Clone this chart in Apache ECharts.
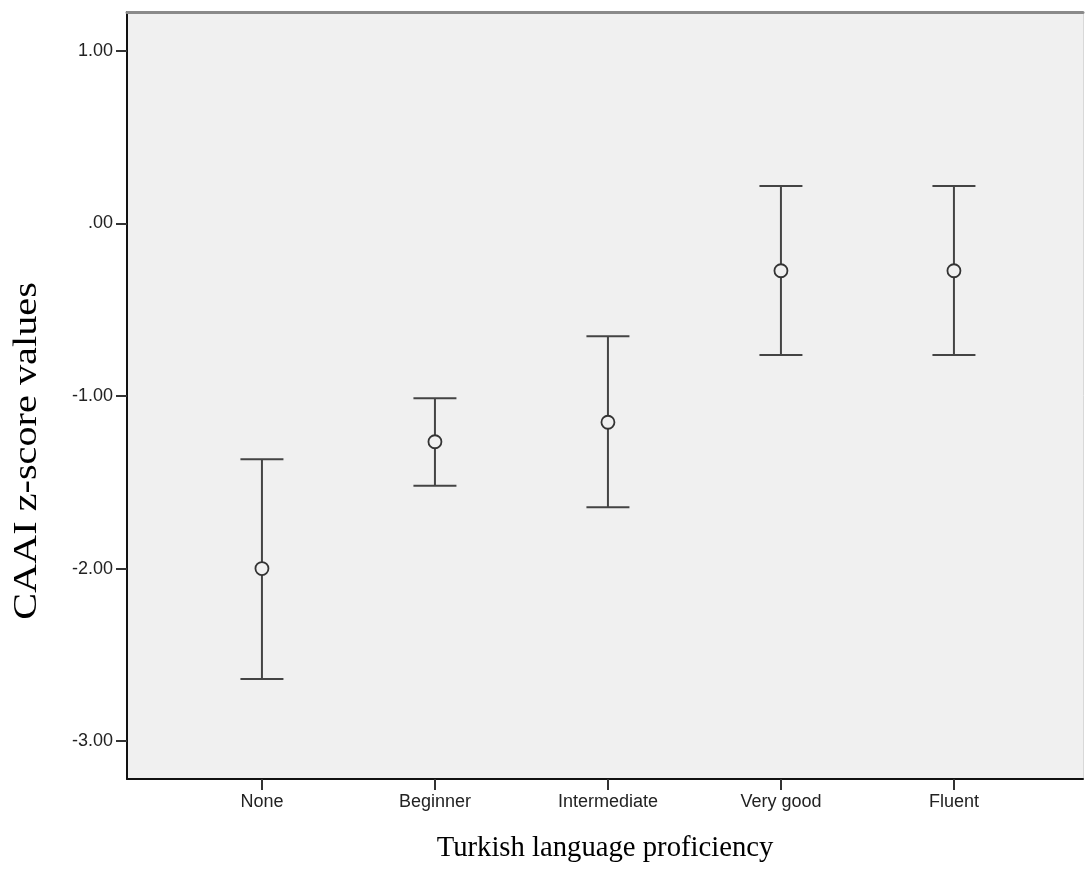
<!DOCTYPE html>
<html>
<head>
<meta charset="utf-8">
<script src="https://cdn.jsdelivr.net/npm/echarts@6/dist/echarts.min.js"></script>
<style>
html,body{margin:0;padding:0;background:#fff;}
#chart{width:1085px;height:884px;}
</style>
</head>
<body>
<div id="chart"></div>
<script>
const categories = ['None', 'Beginner', 'Intermediate', 'Very good', 'Fluent'];
const means = [-2.00, -1.265, -1.152, -0.274, -0.274];
const upper = [-1.366, -1.013, -0.654, 0.217, 0.217];
const lower = [-2.640, -1.520, -1.645, -0.762, -0.762];
const yTicks = [-3, -2, -1, 0, 1];
const xPositions = [1, 2, 3, 4, 5];

const chart = echarts.init(document.getElementById('chart'));
const labelFont = {fontFamily: 'Liberation Sans, Arial, sans-serif', fontSize: 18, color: '#222'};

const errData = categories.map((c, i) => [xPositions[i], lower[i], upper[i]]);
const meanData = categories.map((c, i) => [xPositions[i], means[i]]);

chart.setOption({
  animation: false,
  grid: {left: 127, top: 12, right: 2, bottom: 105, show: true, backgroundColor: '#f0f0f0', borderWidth: 0},
  xAxis: [{
    type: 'value', min: 0.22, max: 5.746, position: 'bottom',
    splitLine: {show: false},
    axisLine: {show: true, onZero: false, lineStyle: {color: '#111', width: 2}},
    axisTick: {show: true, length: 11, customValues: xPositions, lineStyle: {color: '#333', width: 2}},
    axisLabel: Object.assign({margin: 14, customValues: xPositions,
      formatter: v => categories[Math.round(v) - 1] || ''}, labelFont)
  }, {
    type: 'value', min: 0.22, max: 5.746, position: 'top',
    splitLine: {show: false},
    axisLine: {show: true, onZero: false, lineStyle: {color: '#8a8a8a', width: 3}},
    axisTick: {show: false}, axisLabel: {show: false}
  }],
  yAxis: [{
    type: 'value', min: -3.22, max: 1.226, position: 'left',
    splitLine: {show: false},
    axisLine: {show: true, onZero: false, lineStyle: {color: '#111', width: 2}},
    axisTick: {show: true, length: 11, customValues: yTicks, lineStyle: {color: '#333', width: 2}},
    axisLabel: Object.assign({margin: 14, customValues: yTicks,
      formatter: v => { const t = (Math.abs(v) < 1e-9) ? '.00' : Math.abs(v).toFixed(2); return (v < -1e-9 ? '-' : '') + t; }}, labelFont)
  }, {
    type: 'value', min: -3.22, max: 1.226, position: 'right',
    splitLine: {show: false},
    axisLine: {show: true, onZero: false, lineStyle: {color: '#d8d8d8', width: 1}},
    axisTick: {show: false}, axisLabel: {show: false}
  }],
  series: [{
    type: 'custom',
    xAxisIndex: 0, yAxisIndex: 0,
    data: errData,
    renderItem: function (params, api) {
      const x = api.value(0);
      const lo = api.coord([x, api.value(1)]);
      const hi = api.coord([x, api.value(2)]);
      const hw = 21.5;
      const st = {stroke: '#444', lineWidth: 2};
      return {type: 'group', children: [
        {type: 'line', shape: {x1: hi[0], y1: hi[1], x2: lo[0], y2: lo[1]}, style: st},
        {type: 'line', shape: {x1: hi[0] - hw, y1: hi[1], x2: hi[0] + hw, y2: hi[1]}, style: st},
        {type: 'line', shape: {x1: lo[0] - hw, y1: lo[1], x2: lo[0] + hw, y2: lo[1]}, style: st}
      ]};
    },
    z: 2
  }, {
    type: 'scatter',
    xAxisIndex: 0, yAxisIndex: 0,
    data: meanData,
    symbol: 'circle', symbolSize: 13,
    itemStyle: {color: '#f0f0f0', borderColor: '#333', borderWidth: 1.8, opacity: 1},
    z: 3
  }],
  graphic: [{
    type: 'text',
    x: 27, y: 451, rotation: Math.PI / 2, scaleX: 1.22,
    style: {text: 'CAAI z-score values', font: '33px "Liberation Serif", "Times New Roman", serif', fill: '#000', align: 'center', verticalAlign: 'middle'}
  }, {
    type: 'text',
    x: 605, y: 848,
    style: {text: 'Turkish language proficiency', font: '28.7px "Liberation Serif", "Times New Roman", serif', fill: '#000', align: 'center', verticalAlign: 'middle'}
  }]
});
</script>
</body>
</html>
